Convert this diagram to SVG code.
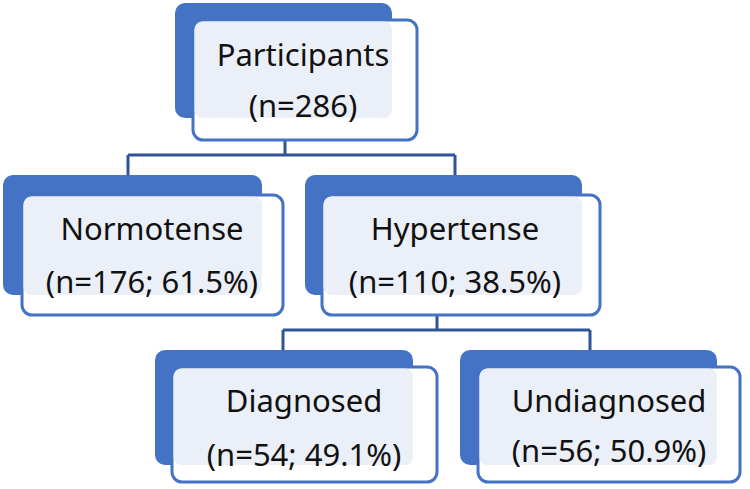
<svg xmlns="http://www.w3.org/2000/svg" width="750" height="489" viewBox="0 0 750 489">
<style>
.back{fill:#4472C4}
.front{fill:#fff;stroke:#4472C4;stroke-width:3}
.tint{fill:#E9EEF8;fill-opacity:0.93}
.c{fill:none;stroke:#2F5597;stroke-width:3}
text{font-family:"Noto Sans","Open Sans",sans-serif;font-size:31px;fill:#111;text-anchor:middle}
</style>
<rect width="750" height="489" fill="#fff"/>
<g id="connectors">
<path class="c" d="M285 140V155M128 155H455M128 155V176M455 155V176"/>
<path class="c" d="M437 315V330M283 330H590M283 330V351M590 330V351"/>
</g>
<g id="participants">
<rect class="back" x="175" y="3" width="217" height="115" rx="10"/>
<rect class="front" x="193" y="20" width="224" height="120" rx="10"/>
<rect class="tint" x="194.5" y="21.5" width="197.5" height="96.5" rx="8"/>
<text x="303" y="66">Participants</text>
<text x="303" y="117">(n=286)</text>
</g>
<g id="normotense">
<rect class="back" x="3" y="175" width="259" height="120" rx="10"/>
<rect class="front" x="22" y="195" width="261" height="120" rx="10"/>
<rect class="tint" x="23.5" y="196.5" width="238.5" height="98.5" rx="8"/>
<text x="152" y="240">Normotense</text>
<text x="152" y="293">(n=176; 61.5%)</text>
</g>
<g id="hypertense">
<rect class="back" x="305" y="175" width="277" height="120" rx="10"/>
<rect class="front" x="322" y="195" width="278" height="120" rx="10"/>
<rect class="tint" x="323.5" y="196.5" width="258.5" height="98.5" rx="8"/>
<text x="455" y="240">Hypertense</text>
<text x="455" y="293">(n=110; 38.5%)</text>
</g>
<g id="diagnosed">
<rect class="back" x="155" y="350" width="258" height="115" rx="10"/>
<rect class="front" x="172" y="367" width="265" height="115" rx="10"/>
<rect class="tint" x="173.5" y="368.5" width="239.5" height="96.5" rx="8"/>
<text x="304" y="412">Diagnosed</text>
<text x="304" y="466">(n=54; 49.1%)</text>
</g>
<g id="undiagnosed">
<rect class="back" x="460" y="350" width="257" height="115" rx="10"/>
<rect class="front" x="478" y="367" width="262" height="115" rx="10"/>
<rect class="tint" x="479.5" y="368.5" width="237.5" height="96.5" rx="8"/>
<text x="609" y="412">Undiagnosed</text>
<text x="609" y="462">(n=56; 50.9%)</text>
</g>
</svg>
